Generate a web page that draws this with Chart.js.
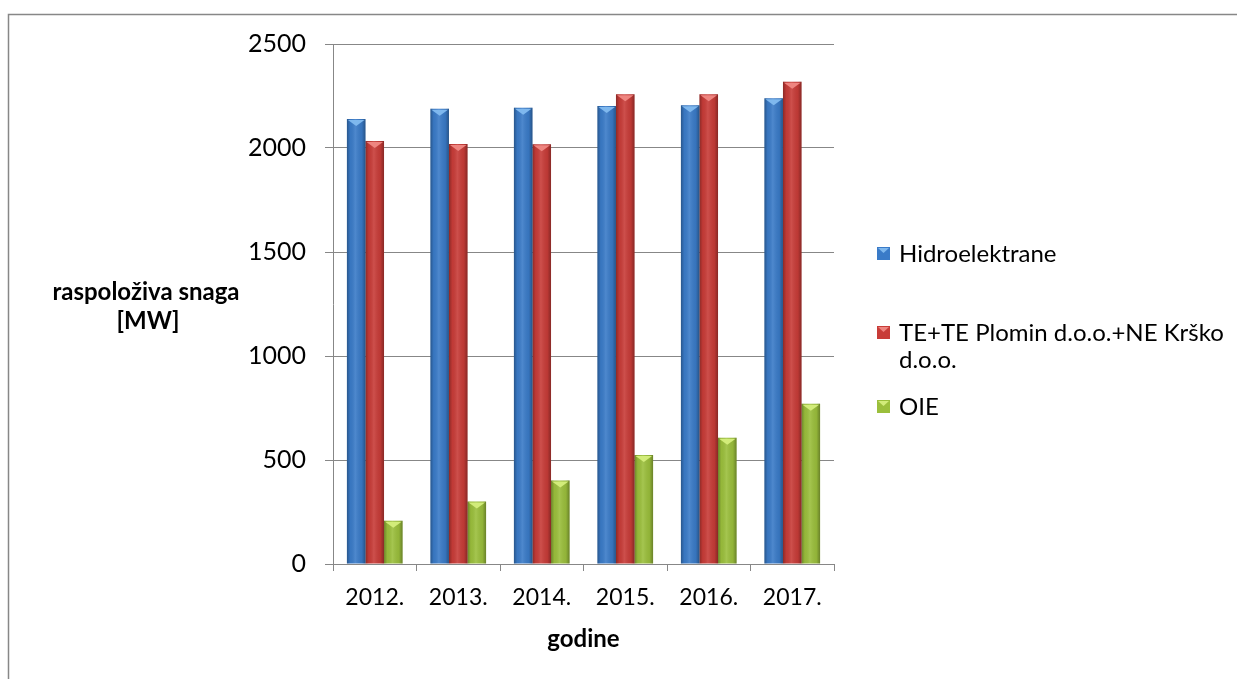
<!DOCTYPE html>
<html>
<head>
<meta charset="utf-8">
<script src="https://cdn.jsdelivr.net/npm/chart.js@4.4.0/dist/chart.umd.min.js"></script>
<style>
  html, body { margin: 0; padding: 0; background: #fff; }
</style>
</head>
<body>
<canvas id="snaga" width="1237" height="679"></canvas>
<script>
// podaci
var godine = ['2012.', '2013.', '2014.', '2015.', '2016.', '2017.'];
var hidro = [2139, 2189, 2194, 2202, 2205, 2239];
var termo = [2034, 2019, 2018, 2258, 2258, 2319];
var oie = [208, 300, 402, 524, 607, 771];
var yTicks = [0, 500, 1000, 1500, 2000, 2500];
var nazivi = ['Hidroelektrane', 'TE+TE Plomin d.o.o.+NE Krško d.o.o.', 'OIE'];

var boje = ['#3a7bc8', '#c83c38', '#9bbf3c'];
var svijetle = ['#7fb8ee', '#ee8580', '#d2ec7a'];
var FONT = 'Lato';
var siva = '#878787';

document.addEventListener('DOMContentLoaded', () => {

    var ctx = document.getElementById('snaga').getContext('2d');

    var ukras = {
        id: 'ukras',
        beforeDraw: function(chart) {
            var c = chart.ctx;
            c.save();
            c.strokeStyle = siva;
            c.lineWidth = 1.5;
            c.beginPath();
            c.moveTo(8.5, 700);
            c.lineTo(8.5, 14.5);
            c.lineTo(1300, 14.5);
            c.stroke();
            c.restore();
        },
        afterDatasetsDraw: function(chart) {
            var c = chart.ctx;
            c.save();
            chart.data.datasets.forEach(function(ds, i) {
                chart.getDatasetMeta(i).data.forEach(function(bar) {
                    var l = bar.x - bar.width / 2, w = bar.width, t = bar.y, h = bar.base - bar.y;
                    var g = c.createLinearGradient(l, 0, l + w, 0);
                    g.addColorStop(0, 'rgba(0,0,0,0.30)');
                    g.addColorStop(0.18, 'rgba(0,0,0,0.04)');
                    g.addColorStop(0.45, 'rgba(255,255,255,0.10)');
                    g.addColorStop(0.8, 'rgba(0,0,0,0.06)');
                    g.addColorStop(1, 'rgba(0,0,0,0.32)');
                    c.fillStyle = g;
                    c.fillRect(l, t, w, h);
                    // svijetli vrh
                    c.fillStyle = svijetle[i];
                    c.beginPath();
                    c.moveTo(l + 1, t + 1);
                    c.lineTo(l + w - 1, t + 1);
                    c.lineTo(bar.x, t + 7);
                    c.closePath();
                    c.fill();
                });
            });
            c.restore();
        },
        afterDraw: function(chart) {
            var c = chart.ctx;
            c.save();
            c.fillStyle = '#000';
            c.textAlign = 'center';
            c.textBaseline = 'middle';
            c.font = 'bold 24px ' + FONT;
            c.fillText('raspoloživa snaga', 146, 292);
            c.fillText('[MW]', 148, 321);

            // legenda
            var ys = [254, 333, 407];
            c.textAlign = 'left';
            c.font = '24px ' + FONT;
            chart.data.datasets.forEach(function(ds, i) {
                var y = ys[i];
                c.fillStyle = boje[i];
                c.fillRect(877, y - 7, 13, 13);
                c.fillStyle = svijetle[i];
                c.beginPath();
                c.moveTo(878, y - 6);
                c.lineTo(889, y - 6);
                c.lineTo(883.5, y - 1);
                c.closePath();
                c.fill();
                c.fillStyle = '#000';
                var rijeci = ds.label.split(' '), red = '', redovi = [];
                rijeci.forEach(function(r) {
                    var probni = red ? red + ' ' + r : r;
                    if (c.measureText(probni).width > 335 && red) { redovi.push(red); red = r; }
                    else red = probni;
                });
                redovi.push(red);
                redovi.forEach(function(tekst, k) {
                    c.fillText(tekst, 899, y + k * 27);
                });
            });
            c.restore();
        }
    };

    var chart = new Chart(ctx, {
        type: 'bar',
        data: {
            labels: godine,
            datasets: [
                { label: nazivi[0], data: hidro, backgroundColor: boje[0] },
                { label: nazivi[1], data: termo, backgroundColor: boje[1] },
                { label: nazivi[2], data: oie, backgroundColor: boje[2] }
            ]
        },
        options: {
            responsive: false,
            animation: false,
            categoryPercentage: 3 / 4.5,
            barPercentage: 1,
            layout: { padding: { top: 44, right: 403, bottom: 0, left: 0 } },
            plugins: {
                legend: { display: false },
                tooltip: { enabled: false }
            },
            scales: {
                x: {
                    grid: { drawOnChartArea: false, drawTicks: true, tickLength: 7, color: siva, offset: true },
                    border: { color: siva },
                    ticks: { color: '#000', font: { family: FONT, size: 23 }, padding: 13 },
                    title: {
                        display: true, text: 'godine', color: '#000',
                        font: { family: FONT, size: 24, weight: 'bold' },
                        padding: { top: 0, bottom: 25 }
                    },
                    afterFit: function(s) { s.height = 115; }
                },
                y: {
                    min: yTicks[0],
                    max: yTicks[yTicks.length - 1],
                    grid: { color: siva, tickLength: 8 },
                    border: { color: siva },
                    ticks: {
                        color: '#000', font: { family: FONT, size: 25 }, padding: 19,
                        callback: function(v) { return String(v); }
                    },
                    afterBuildTicks: function(s) { s.ticks = yTicks.map(function(v) { return { value: v }; }); },
                    afterFit: function(s) { s.width = 333; }
                }
            }
        },
        plugins: [ukras]
    });

});
</script>
</body>
</html>
